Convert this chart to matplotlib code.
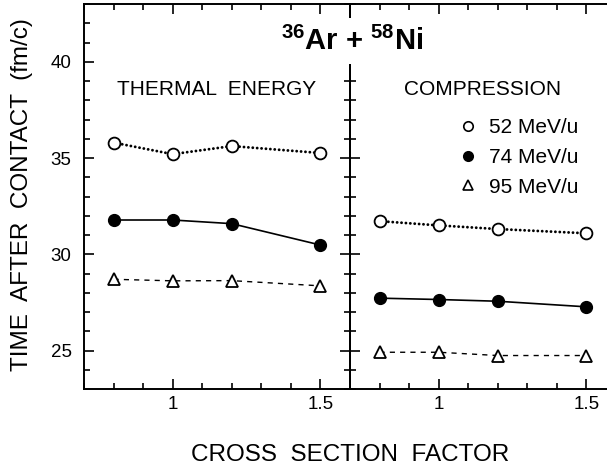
#!/usr/bin/env python3

import numpy as np
import matplotlib
matplotlib.use('Agg')
import matplotlib.pyplot as plt
from matplotlib.ticker import MultipleLocator, FormatStrFormatter
from matplotlib.legend_handler import HandlerLine2D

plt.rcParams['font.family'] = ['Liberation Sans', 'DejaVu Sans']
plt.rcParams['mathtext.fontset'] = 'custom'
plt.rcParams['mathtext.rm'] = 'Liberation Sans'
plt.rcParams['mathtext.bf'] = 'Liberation Sans:bold'

# cross section factors used in the transport runs
factor = [0.8, 1.0, 1.2, 1.5]

# time after contact (fm/c) of the thermal energy maximum
thermal_52 = [35.8, 35.2, 35.62, 35.26]
thermal_74 = [31.78, 31.78, 31.59, 30.48]
thermal_95 = [28.7, 28.62, 28.63, 28.36]

# time after contact (fm/c) of the maximum compression
compr_52 = [31.72, 31.5, 31.31, 31.09]
compr_74 = [27.72, 27.65, 27.56, 27.27]
compr_95 = [24.91, 24.91, 24.74, 24.74]

labels = ['52 MeV/u', '74 MeV/u', '95 MeV/u']

fig = plt.figure(figsize=(6.07, 4.72), dpi=100)
w = 0.4382
ax0 = fig.add_axes([0.1384, 0.1758, w, 0.8157])
ax1 = fig.add_axes([0.1384 + w, 0.1758, w, 0.8157])


def draw(ax, s52, s74, s95):
    l1, = ax.plot(factor, s52, color='black', lw=2.1, marker='o', ms=8.5,
                  mfc='white', mec='black', mew=1.3, dashes=(0.01, 1.5),
                  dash_capstyle='round')
    l2, = ax.plot(factor, s74, '-', color='black', lw=1.2, marker='o', ms=8.5,
                  mfc='black', mec='black')
    l3, = ax.plot(factor, s95, color='black', lw=1.0, marker='^', ms=9,
                  mfc='white', mec='black', mew=1.3, dashes=(3.7, 3.7))
    ax.set_xlim(0.7, 1.6)
    ax.set_ylim(23, 43)
    ax.xaxis.set_major_locator(MultipleLocator(0.5))
    ax.xaxis.set_minor_locator(MultipleLocator(0.1))
    ax.yaxis.set_major_locator(MultipleLocator(5))
    ax.yaxis.set_minor_locator(MultipleLocator(1))
    ax.xaxis.set_major_formatter(FormatStrFormatter('%g'))
    ax.tick_params(which='both', direction='in', top=True, right=True,
                   width=1.2, labelsize=13.5)
    ax.tick_params(axis='x', pad=5)
    ax.tick_params(axis='y', pad=9)
    ax.tick_params(which='major', length=7)
    ax.tick_params(which='minor', length=4)
    for sp in ax.spines.values():
        sp.set_linewidth(1.4)
    return l1, l2, l3


draw(ax0, thermal_52, thermal_74, thermal_95)
handles = draw(ax1, compr_52, compr_74, compr_95)

ax1.tick_params(which='both', labelleft=False, right=False)
ax1.patch.set_alpha(0)

ax0.text(0.5, 0.779, 'THERMAL  ENERGY', transform=ax0.transAxes,
         ha='center', va='center', fontsize=15)
ax1.text(0.5, 0.779, 'COMPRESSION', transform=ax1.transAxes,
         ha='center', va='center', fontsize=15)

leg = ax1.legend(handles, labels, loc='upper left', bbox_to_anchor=(0.444, 0.704),
                 frameon=False, fontsize=15, handlelength=0, handletextpad=1.0,
                 labelspacing=0.52, borderpad=0, borderaxespad=0,
                 markerscale=0.8,
                 handler_map={h: HandlerLine2D(numpoints=1) for h in handles})
for lh in leg.legend_handles:
    lh.set_linestyle('None')
    lh.set_markeredgewidth(1.2)

fig.text(0.58, 0.913, r'$^{\mathbf{36}}$Ar + $^{\mathbf{58}}$Ni',
         ha='center', va='center', fontsize=21, fontweight='bold',
         bbox=dict(facecolor='white', edgecolor='none', pad=6), zorder=10)

fig.text(0.037, 0.587, 'TIME  AFTER  CONTACT  (fm/c)', rotation=90,
         ha='center', va='center', fontsize=17.5)
fig.text(0.577, 0.036, 'CROSS  SECTION  FACTOR', ha='center', va='center',
         fontsize=17.5)

fig.savefig('out.png', dpi=100)
